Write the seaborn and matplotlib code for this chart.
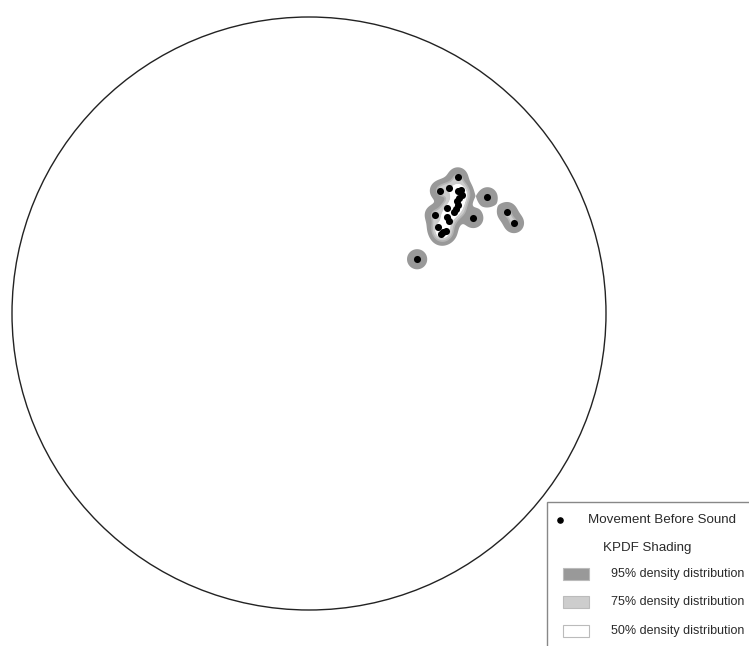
import numpy as np
import pandas as pd
import matplotlib
matplotlib.use("Agg")
import matplotlib.pyplot as plt
from matplotlib.patches import Circle, Rectangle
import seaborn as sns

# ── Data (positions on the unit net) ─────────────────────────────────
move_x = [0.501, 0.441, 0.471, 0.501, 0.512, 0.515, 0.505, 0.498, 0.501,
          0.495, 0.488, 0.464, 0.424, 0.464, 0.471, 0.553, 0.434, 0.451,
          0.462, 0.445, 0.601, 0.667, 0.690, 0.364]
move_y = [0.459, 0.414, 0.422, 0.414, 0.417, 0.399, 0.389, 0.379, 0.365,
          0.352, 0.342, 0.356, 0.333, 0.327, 0.312, 0.322, 0.292, 0.275,
          0.278, 0.267, 0.392, 0.342, 0.305, 0.183]

legend_labels = ["Movement Before Sound", "KPDF Shading",
                 "95% density distribution", "75% density distribution",
                 "50% density distribution"]
shade_colors = ["#999999", "#cdcdcd", "#ffffff"]
mass_levels = [0.95, 0.68, 0.45]     # share of density mass inside each contour

df = pd.DataFrame({"x": move_x, "y": move_y})

sns.set_theme(style="white")
plt.rcParams["font.family"] = ["Liberation Sans", "DejaVu Sans"]

# ── Kernel probability density (isotropic gaussian kernel) ───────────
bw = 0.019
gx = np.linspace(0.2, 0.85, 500)
gy = np.linspace(0.05, 0.65, 500)
XX, YY = np.meshgrid(gx, gy)
dens = np.zeros_like(XX)
for px, py in zip(df["x"], df["y"]):
    dens += np.exp(-((XX - px) ** 2 + (YY - py) ** 2) / (2 * bw ** 2))

vals = np.sort(dens.ravel())[::-1]
cum = np.cumsum(vals) / vals.sum()
lev = [vals[np.searchsorted(cum, m)] for m in mass_levels]
lev = lev + [dens.max() * 1.01]

W, H = 749, 646
fig = plt.figure(figsize=(W / 100, H / 100), dpi=100)
ax = fig.add_axes([12 / W, (H - 610) / H, 594 / W, 593 / H])

ax.contourf(XX, YY, dens, levels=lev, colors=shade_colors, antialiased=True)
# soft inner edge like the rasterised original
ax.contour(XX, YY, dens, levels=lev[1:2], colors=["#b4b4b4"], linewidths=1.2)
sns.scatterplot(data=df, x="x", y="y", color="black", s=26, linewidth=0,
                ax=ax, zorder=5, legend=False)
ax.add_patch(Circle((0, 0), 1.0, fill=False, ec="#222222", lw=1.0,
                    clip_on=False, zorder=6))
ax.set_xlim(-1, 1); ax.set_ylim(-1, 1)
ax.axis("off")

# ── Legend (drawn in pixel coordinates) ───────────────────────────────
lg = fig.add_axes([0, 0, 1, 1], zorder=10)
lg.set_xlim(0, W); lg.set_ylim(H, 0)
lg.axis("off")
lg.add_patch(Rectangle((547, 502), 260, 200, fc="white", ec="#888888", lw=1.0))
lg.scatter([560], [520], s=14, color="black")
txt_kw = dict(fontsize=9.6, va="center", color="#2a2a2a")
lg.text(588, 520, legend_labels[0], **txt_kw)
lg.text(603, 548, legend_labels[1], **txt_kw)
rows_y = [574, 602, 631]
for yy, col, lab in zip(rows_y, shade_colors, legend_labels[2:]):
    lg.add_patch(Rectangle((563, yy - 6), 26, 12, fc=col, ec="#bbbbbb", lw=0.8))
    lg.text(611, yy, lab, fontsize=9.0, va="center", color="#2a2a2a")

fig.savefig("out.png", dpi=100)
plt.close()
